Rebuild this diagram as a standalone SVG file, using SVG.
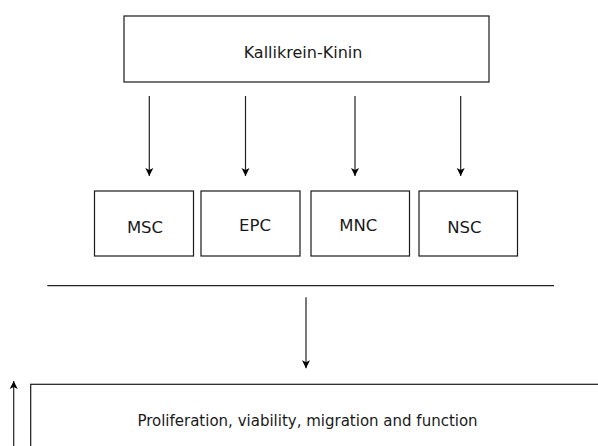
<svg xmlns="http://www.w3.org/2000/svg" width="598" height="446" viewBox="0 0 598 446">
<style>
.box{fill:#fff;stroke:#1a1a1a;stroke-width:1.2}
.t{font-family:"DejaVu Sans",Verdana,sans-serif;fill:#1a1a1a;text-anchor:middle}
.c{stroke:#222;stroke-width:1.2;fill:none}
</style>
<defs>
<marker id="ah" viewBox="0 0 8 10" refX="8" refY="5" markerWidth="8" markerHeight="10" markerUnits="userSpaceOnUse" orient="auto">
<path d="M0,1 L8,5 L0,9 L2,5 Z" fill="#000"/>
</marker>
</defs>
<rect width="598" height="446" fill="#fff"/>
<g id="kallikrein">
<rect class="box" x="124" y="16" width="365" height="66"/>
<text class="t" x="303" y="58.3" font-size="16">Kallikrein-Kinin</text>
</g>
<g id="msc">
<rect class="box" x="94.5" y="191" width="99" height="65"/>
<text class="t" x="145" y="233.3" font-size="16.5">MSC</text>
</g>
<g id="epc">
<rect class="box" x="201" y="191" width="99" height="65"/>
<text class="t" x="255" y="231" font-size="16.5">EPC</text>
</g>
<g id="mnc">
<rect class="box" x="311" y="191" width="98.5" height="65"/>
<text class="t" x="358.3" y="230.7" font-size="16.5">MNC</text>
</g>
<g id="nsc">
<rect class="box" x="419" y="191" width="98.5" height="65"/>
<text class="t" x="464.3" y="233.3" font-size="16.5">NSC</text>
</g>
<g id="outcome">
<rect class="box" x="30.7" y="384.3" width="620" height="120"/>
<text class="t" x="307.5" y="425.7" font-size="15">Proliferation, viability, migration and function</text>
</g>
<g id="connectors">
<line class="c" x1="149.3" y1="96" x2="149.3" y2="176" marker-end="url(#ah)"/>
<line class="c" x1="245.5" y1="96" x2="245.5" y2="176" marker-end="url(#ah)"/>
<line class="c" x1="355" y1="96" x2="355" y2="176" marker-end="url(#ah)"/>
<line class="c" x1="460.7" y1="96" x2="460.7" y2="176" marker-end="url(#ah)"/>
<line class="c" x1="47.3" y1="285.7" x2="554" y2="285.7" stroke="#555"/>
<line class="c" x1="306" y1="297.3" x2="306" y2="368.3" marker-end="url(#ah)"/>
<line class="c" x1="13.7" y1="446" x2="13.7" y2="381" marker-end="url(#ah)"/>
</g>
</svg>
